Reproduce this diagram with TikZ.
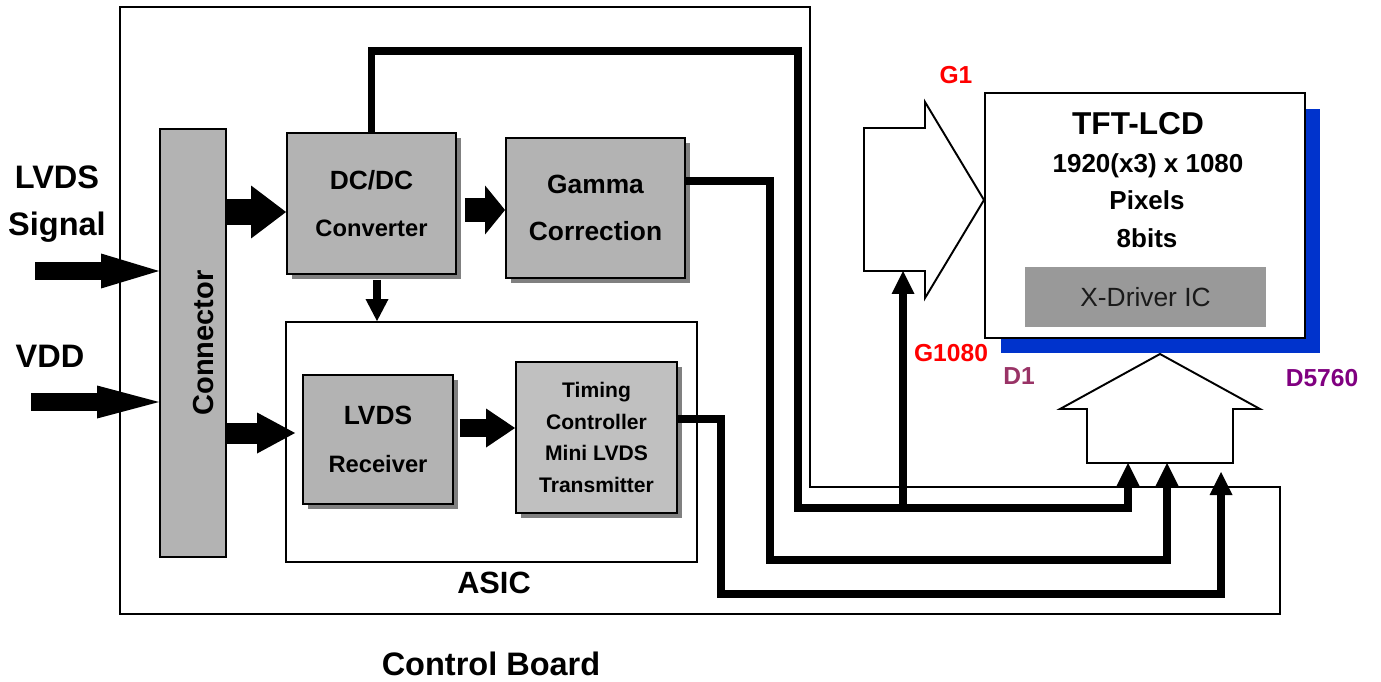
\documentclass[tikz,border=0pt]{standalone}
\usepackage{fontspec}
\setmainfont{Liberation Sans}
\usetikzlibrary{arrows.meta,shadows}
\definecolor{boxgray}{HTML}{B3B3B3}
\definecolor{tcongray}{HTML}{C0C0C0}
\definecolor{shadegray}{HTML}{808080}
\definecolor{drvgray}{HTML}{999999}
\definecolor{drvtext}{HTML}{1A1A1A}
\definecolor{lcdblue}{HTML}{0033CC}
\definecolor{gred}{HTML}{FF0000}
\definecolor{dfirst}{HTML}{993366}
\definecolor{dlast}{HTML}{800080}

\begin{document}
\begin{tikzpicture}[x=0.02cm,y=-0.02cm,
  blk/.style={draw, line width=1.1pt, fill=boxgray, inner sep=0pt, align=center},
  boxshadow/.style={drop shadow={shadow xshift=0.1cm, shadow yshift=-0.1cm, fill=shadegray, opacity=1}},
  biglbl/.style={font=\fontsize{18.5}{26.6}\selectfont\bfseries},
  pinlbl/.style={font=\fontsize{14}{16}\selectfont\bfseries, anchor=base},
  lcdline/.style={font=\fontsize{14.8}{16}\selectfont\bfseries, anchor=base},
  wire/.style={line width=0.15cm},
  wiretip/.style={wire, -{Triangle[length=0.46cm, width=0.46cm, line width=0pt]}},
  fatarrow/.style n args={3}{line width=#1, -{Triangle[length=#2, width=#3, line width=0pt]}}]

  \useasboundingbox (0,0) rectangle (1381,682);

  % --- control board: outline and caption ----------------------------------
  \draw[line width=0.6pt] (120,7) -- (810,7) -- (810,487) -- (1280,487)
    -- (1280,614) -- (120,614) -- cycle;
  \node[biglbl, anchor=base] (cblabel) at (491,675) {Control Board};

  % --- inputs and connector -------------------------------------------------
  \node[biglbl, align=center] (lvdslbl) at (57,204) {LVDS\\Signal};
  \node[biglbl, anchor=base] (vddlbl) at (50,367) {VDD};
  \node[blk, minimum width=1.32cm, minimum height=8.56cm] (conn) at (193,343) {};
  \node[font=\fontsize{16.5}{18}\selectfont\bfseries, rotate=90, anchor=base]
    (conntxt) at (213,343) {Connector};
  \coordinate (lvdsin) at (35,271);
  \coordinate (vddin) at (31,402);
  \draw[fatarrow={0.36cm}{1.16cm}{0.70cm}] (lvdsin) -- (conn.west |- lvdsin);
  \draw[fatarrow={0.36cm}{1.24cm}{0.66cm}] (vddin) -- (conn.west |- vddin);

  % --- power and gamma blocks -----------------------------------------------
  \node[blk, boxshadow, minimum width=3.38cm, minimum height=2.82cm,
    font=\fontsize{15}{27.2}\selectfont\bfseries] (dcdc) at (371.5,203.5)
    {DC/DC\\{\fontsize{13.5}{0}\selectfont Converter}};
  \node[blk, boxshadow, minimum width=3.58cm, minimum height=2.80cm,
    font=\fontsize{15}{26.6}\selectfont\bfseries] (gamma) at (595.5,208)
    {Gamma\\Correction};

  % --- ASIC with receiver and timing controller ----------------------------
  \node[draw, line width=1.1pt, fill=white, minimum width=8.22cm,
    minimum height=4.80cm] (asic) at (491.5,442) {};
  \node[font=\fontsize{17.5}{20}\selectfont\bfseries, anchor=base] (asiclbl)
    at (494,593) {ASIC};
  \node[blk, boxshadow, minimum width=3.0cm, minimum height=2.58cm,
    font=\fontsize{15}{27.2}\selectfont\bfseries] (rx) at (378,439.5)
    {LVDS\\{\fontsize{13.5}{0}\selectfont Receiver}};
  \node[blk, boxshadow, fill=tcongray, minimum width=3.22cm, minimum height=3.02cm,
    font=\fontsize{12}{18}\selectfont\bfseries] (tcon) at (596.5,437.5)
    {Timing\\Controller\\Mini LVDS\\Transmitter};

  % block arrows between the board blocks
  \draw[fatarrow={0.54cm}{0.70cm}{1.06cm}] (conn.east |- 0,212) -- (dcdc.west |- 0,212);
  \draw[fatarrow={0.42cm}{0.76cm}{0.82cm}, shorten >=0.14cm] (conn.east |- 0,433) -- (rx.west |- 0,433);
  \draw[fatarrow={0.48cm}{0.40cm}{0.98cm}, shorten <=0.16cm] (dcdc.east |- 0,210) -- (gamma.west |- 0,210);
  \draw[fatarrow={0.36cm}{0.58cm}{0.78cm}, shorten <=0.12cm] (rx.east |- 0,428) -- (tcon.west |- 0,428);
  \draw[fatarrow={0.16cm}{0.44cm}{0.46cm}, shorten <=0.10cm] (377,0 |- dcdc.south) -- (377,0 |- asic.north);

  % --- panel: gate arrow, TFT-LCD, source arrow ----------------------------
  \draw[line width=1.1pt, fill=white] (864,128) -- (925,128) -- (925,102) -- (984,200)
    -- (925,298) -- (925,271) -- (864,271) -- cycle;
  \node[draw, line width=1.5pt, fill=white, minimum width=6.40cm, minimum height=4.90cm,
    drop shadow={shadow xshift=0.31cm, shadow yshift=-0.31cm, fill=lcdblue, opacity=1}]
    (tft) at (1145,215.5) {};
  \node[font=\fontsize{18}{20}\selectfont\bfseries, anchor=base] (tfttitle) at (1138,135) {TFT-LCD};
  \node[lcdline] (tftres) at (1148,173) {1920(x3) x 1080};
  \node[lcdline] (tftpix) at (1147,210) {Pixels};
  \node[lcdline] (tftbits) at (1147,247) {8bits};
  \node[fill=drvgray, minimum width=4.82cm, minimum height=1.20cm, text=drvtext,
    font=\fontsize{15}{18}\selectfont] (xdrv) at (1145.5,297) {X-Driver IC};
  \draw[line width=1.1pt, fill=white] (1087,463) -- (1087,409) -- (1060,409) -- (1160,354)
    -- (1260,409) -- (1233,409) -- (1233,463) -- cycle;

  % first and last gate / source lines
  \foreach \nm/\px/\py/\col/\txt in {g1/956/84/gred/G1, glast/951/361/gred/G1080,
      d1/1019/384/dfirst/D1, dlast/1322/386/dlast/D5760} {
    \node[pinlbl, text=\col] (\nm) at (\px,\py) {\txt};
  }

  % --- wires from the control board to the panel ---------------------------
  \coordinate (gin) at (903,271);
  \coordinate (gjoin) at (903,508);
  \coordinate (din1) at (1128,463);
  \coordinate (din2) at (1167,463);
  \coordinate (din3) at (1221,472);
  \draw[wiretip] (dcdc.north) |- (798,51) -- (798,508) -| (din1);
  \draw[wiretip] (gjoin) -- (gin);
  \draw[wiretip] (gamma.east |- 0,181) -| (770,560) -| (din2);
  \draw[wiretip] (tcon.east |- 0,419) -| (721,594) -| (din3);

\end{tikzpicture}
\end{document}
